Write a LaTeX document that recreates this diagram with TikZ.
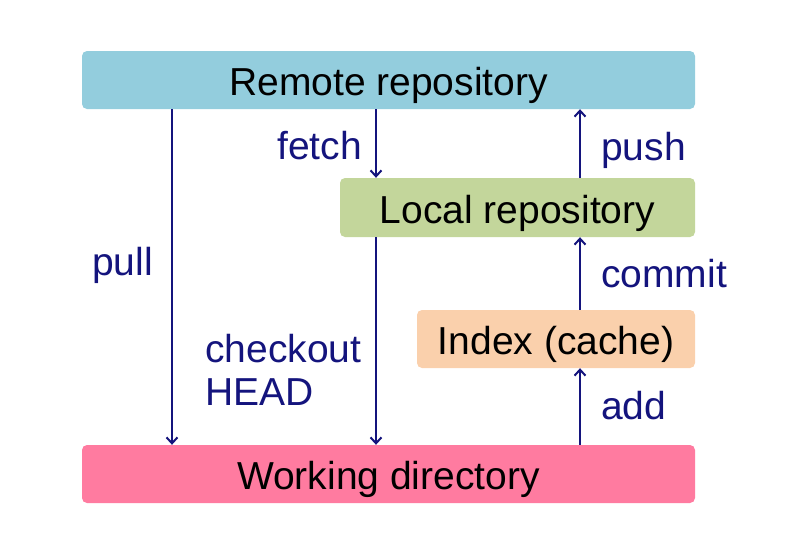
\documentclass[tikz,border=0pt]{standalone}
\usepackage{fontspec}
\setmainfont{Liberation Sans}
\usetikzlibrary{arrows.meta}
\definecolor{remotec}{HTML}{93CDDD}
\definecolor{localc}{HTML}{C3D69B}
\definecolor{indexc}{HTML}{FAD0AC}
\definecolor{workc}{HTML}{FF7BA0}
\definecolor{navy}{RGB}{20,20,125}
\tikzset{
  box/.style={fill=#1, rounded corners=5pt, inner sep=0pt,
    text height=37pt, text depth=6pt,
    font=\fontsize{39}{43}\selectfont, text=black},
  lbl/.style={inner sep=0pt, font=\fontsize{39}{43}\selectfont, text=navy, align=left},
  arr/.style={draw=navy, line width=2pt, -{Straight Barb[length=6pt,width=11pt,line width=2pt]}}
}
\begin{document}
\begin{tikzpicture}[x=1pt,y=-1pt]
\useasboundingbox (0,0) rectangle (785,544);
\node[box=remotec, minimum width=613pt, minimum height=58pt] (remote) at (388.5,80) {Remote repository};
\node[box=localc, minimum width=355pt, minimum height=59pt] (local) at (517.5,207.5) {Local repository};
\node[box=indexc, minimum width=278pt, minimum height=58pt] (index) at (556,339) {Index (cache)};
\node[box=workc, minimum width=613pt, minimum height=58pt] (work) at (388.5,474) {Working directory};
\coordinate (xpull) at (172,0);
\coordinate (xmid) at (376,0);
\coordinate (xright) at (580,0);
\draw[arr] (remote.south -| xpull) -- (work.north -| xpull);
\draw[arr] (remote.south -| xmid) -- (local.north -| xmid);
\draw[arr] (local.south -| xmid) -- (work.north -| xmid);
\draw[arr] (local.north -| xright) -- (remote.south -| xright);
\draw[arr] (index.north -| xright) -- (local.south -| xright);
\draw[arr] (work.north -| xright) -- (index.south -| xright);
\node[lbl, anchor=base east] (lfetch) at (362,159) {fetch};
\node[lbl, anchor=base west] (lpush) at (601,160) {push};
\node[lbl, anchor=base west] (lpull) at (92,275) {pull};
\node[lbl, anchor=base west] (lcommit) at (601,287) {commit};
\node[lbl, anchor=base west] (lcheck) at (205,362) {checkout};
\node[lbl, anchor=base west] (lhead) at (205,405) {HEAD};
\node[lbl, anchor=base west] (ladd) at (601,419) {add};
\end{tikzpicture}
\end{document}
